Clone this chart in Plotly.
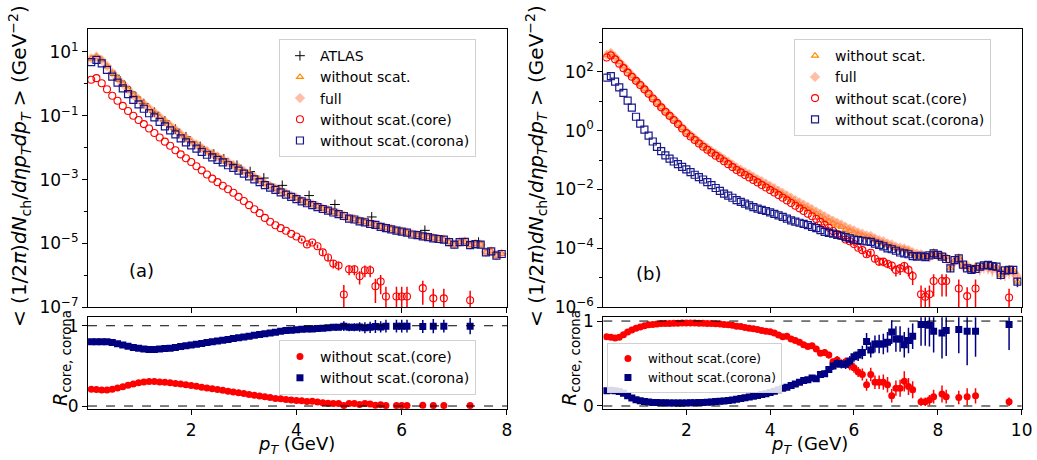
import numpy as np
import plotly.graph_objects as go

# ---------------- bin centres ----------------
pt_a = np.round(np.arange(1, 80) * 0.1, 1)    # 0.1 ... 7.9 GeV
pt_b = np.round(np.arange(1, 100) * 0.1, 1)   # 0.1 ... 9.9 GeV

# ---------------- panel (a): spectra (log10 values) ----------------
atlas_pt = [0.55, 0.65, 0.75, 0.85, 0.95, 1.1, 1.3, 1.5, 1.7, 1.9, 2.17, 2.43, 2.62, 2.87,
            3.12, 3.38, 3.73, 4.24, 4.73, 5.43, 6.44, 7.46]
atlas_log = [0.27, 0.09, -0.08, -0.25, -0.41, -0.62, -0.89, -1.16, -1.42, -1.66, -1.96, -2.2,
             -2.35, -2.55, -2.75, -2.95, -3.18, -3.5, -3.78, -4.17, -4.59, -4.96]

log_total_a = [0.79, 0.85, 0.74, 0.55, 0.34, 0.16, -0.01, -0.18, -0.36, -0.49,
               -0.63, -0.77, -0.90, -1.04, -1.18, -1.31, -1.44, -1.58, -1.70, -1.81,
               -1.91, -2.02, -2.11, -2.20, -2.28, -2.37, -2.46, -2.55, -2.64, -2.74,
               -2.83, -2.93, -3.02, -3.12, -3.20, -3.28, -3.36, -3.43, -3.51, -3.58,
               -3.66, -3.72, -3.78, -3.84, -3.91, -3.96, -4.02, -4.07, -4.14, -4.21,
               -4.24, -4.30, -4.33, -4.38, -4.42, -4.48, -4.52, -4.55, -4.60, -4.63,
               -4.66, -4.72, -4.74, -4.78, -4.80, -4.84, -4.86, -4.88, -4.96, -5.04,
               -4.96, -4.95, -5.05, -5.02, -5.04, -5.28, -5.25, -5.38, -5.33]

log_full_a = [0.80, 0.86, 0.75, 0.56, 0.35, 0.17, 0.00, -0.17, -0.35, -0.48,
              -0.62, -0.76, -0.89, -1.03, -1.17, -1.30, -1.43, -1.57, -1.69, -1.80,
              -1.90, -2.01, -2.10, -2.19, -2.27, -2.36, -2.45, -2.54, -2.63, -2.73,
              -2.82, -2.92, -3.01, -3.11, -3.19, -3.27, -3.35, -3.42, -3.50, -3.57,
              -3.65, -3.71, -3.77, -3.83, -3.90, -3.95, -4.01, -4.06, -4.13, -4.20,
              -4.23, -4.29, -4.32, -4.37, -4.41, -4.47, -4.51, -4.54, -4.59, -4.62,
              -4.65, -4.71, -4.73, -4.77, -4.79, -4.83, -4.85, -4.87, -4.95, -5.03,
              -4.95, -4.94, -5.04, -5.01, -5.03, -5.27, -5.24, -5.37, -5.32]

log_core_a = [0.13, 0.18, 0.02, -0.17, -0.37, -0.53, -0.69, -0.85, -1.00, -1.13,
              -1.26, -1.40, -1.54, -1.68, -1.81, -1.94, -2.08, -2.21, -2.33, -2.45,
              -2.58, -2.71, -2.84, -2.97, -3.08, -3.19, -3.30, -3.41, -3.54, -3.67,
              -3.80, -3.93, -4.05, -4.20, -4.32, -4.43, -4.52, -4.60, -4.70, -4.78,
              -4.88, -5.03, -4.97, -5.09, -5.28, -5.44, -5.63, -5.69, -6.60, -5.81,
              -5.81, -6.03, -5.84, -5.84, -6.34, -6.19, -6.66, None, -6.66, -6.66,
              -6.66, None, None, -6.40, None, -6.72, None, -6.72, None, None,
              None, None, -6.78, None, None, None, None, None, None]
core_a_errfrac = [0] * 40 + [0.1, 0.12, 0.12, 0.15, 0.2, 0.25, 0.3, 0.3, 1.0, 0.35,
                             0.35, 0.45, 0.4, 0.4, 0.7, 0.6, 1.0, 0, 1.0, 1.0,
                             1.0, 0, 0, 0.7, 0, 1.0, 0, 1.0, 0, 0,
                             0, 0, 1.0, 0, 0, 0, 0, 0, 0]

log_corona_a = [0.68, 0.75, 0.64, 0.44, 0.23, 0.04, -0.14, -0.32, -0.50, -0.64,
                -0.78, -0.92, -1.05, -1.19, -1.33, -1.46, -1.58, -1.71, -1.83, -1.93,
                -2.03, -2.13, -2.22, -2.30, -2.38, -2.46, -2.55, -2.63, -2.72, -2.81,
                -2.90, -2.99, -3.08, -3.17, -3.25, -3.32, -3.40, -3.47, -3.54, -3.61,
                -3.68, -3.74, -3.80, -3.86, -3.92, -3.97, -4.03, -4.08, -4.14, -4.22,
                -4.25, -4.31, -4.34, -4.39, -4.42, -4.48, -4.52, -4.56, -4.60, -4.63,
                -4.66, -4.72, -4.74, -4.78, -4.80, -4.84, -4.86, -4.88, -4.96, -5.04,
                -4.96, -4.95, -5.05, -5.02, -5.04, -5.28, -5.25, -5.38, -5.33]

# ---------------- panel (a): ratios ----------------
rcore_a = [0.21, 0.205, 0.20, 0.20, 0.21, 0.225, 0.24, 0.26, 0.275, 0.29,
           0.30, 0.305, 0.305, 0.30, 0.295, 0.29, 0.28, 0.275, 0.265, 0.255,
           0.245, 0.235, 0.225, 0.215, 0.205, 0.195, 0.185, 0.175, 0.165, 0.155,
           0.145, 0.135, 0.125, 0.115, 0.105, 0.095, 0.09, 0.08, 0.075, 0.07,
           0.065, 0.055, 0.06, 0.05, 0.04, 0.035, 0.03, 0.03, 0.005, 0.03,
           0.03, 0.02, 0.03, 0.025, 0.01, 0.015, 0.005, None, 0.005, 0.005,
           0.005, None, None, 0.01, None, 0.005, None, 0.005, None, None,
           None, None, 0.005, None, None, None, None, None, None]
rcorona_a = [0.80, 0.80, 0.80, 0.80, 0.79, 0.775, 0.76, 0.745, 0.73, 0.72,
             0.71, 0.705, 0.705, 0.71, 0.715, 0.72, 0.73, 0.74, 0.75, 0.76,
             0.77, 0.78, 0.79, 0.80, 0.81, 0.82, 0.83, 0.84, 0.85, 0.86,
             0.87, 0.88, 0.89, 0.90, 0.91, 0.92, 0.93, 0.94, 0.945, 0.95,
             0.955, 0.96, 0.96, 0.965, 0.97, 0.975, 0.98, 0.98, 0.995, 0.98,
             0.98, 0.985, 0.975, 0.98, 0.99, 0.985, 0.995, None, 0.995, 0.995,
             0.995, None, None, 0.99, None, 0.995, None, 0.995, None, None,
             None, None, 0.995, None, None, None, None, None, None]
rcorona_a_err = [0] * 48 + [0.06, 0.05,
                            0.05, 0.06, 0.07, 0.07, 0.08, 0.07, 0.08, 0, 0.08, 0.08,
                            0.08, 0, 0, 0.08, 0, 0.09, 0, 0.08, 0, 0,
                            0, 0, 0.1, 0, 0, 0, 0, 0, 0]

# ---------------- panel (b): spectra (log10 values) ----------------
log_total_b = [2.56, 2.63, 2.49, 2.33, 2.18, 2.02, 1.87, 1.71, 1.57, 1.42,
               1.27, 1.10, 0.95, 0.80, 0.65, 0.52, 0.38, 0.24, 0.09, -0.06,
               -0.17, -0.29, -0.41, -0.52, -0.62, -0.72, -0.82, -0.91, -1.01, -1.10,
               -1.20, -1.30, -1.38, -1.47, -1.54, -1.63, -1.71, -1.79, -1.87, -1.95,
               -2.03, -2.11, -2.19, -2.28, -2.36, -2.44, -2.52, -2.60, -2.67, -2.75,
               -2.83, -2.92, -3.00, -3.08, -3.15, -3.22, -3.27, -3.36, -3.41, -3.47,
               -3.53, -3.57, -3.63, -3.63, -3.72, -3.78, -3.82, -3.89, -3.92, -3.99,
               -4.03, -4.03, -4.09, -4.18, -4.28, -4.23, -4.28, -4.22, -4.12, -4.22,
               -4.22, -4.29, -4.68, -4.40, -4.30, -4.55, -4.63, -4.73, -4.61, -4.62,
               -4.58, -4.56, -4.60, -4.62, -4.90, -4.75, -4.68, -4.73, -5.13]

log_full_b = [2.57, 2.64, 2.50, 2.34, 2.19, 2.03, 1.88, 1.72, 1.58, 1.43,
              1.28, 1.12, 0.97, 0.82, 0.67, 0.54, 0.40, 0.26, 0.11, -0.04,
              -0.15, -0.27, -0.38, -0.49, -0.59, -0.69, -0.78, -0.87, -0.97, -1.06,
              -1.15, -1.25, -1.33, -1.41, -1.48, -1.57, -1.65, -1.72, -1.80, -1.88,
              -1.96, -2.04, -2.12, -2.20, -2.28, -2.36, -2.44, -2.52, -2.59, -2.67,
              -2.75, -2.83, -2.91, -2.99, -3.06, -3.13, -3.19, -3.27, -3.33, -3.39,
              -3.46, -3.50, -3.56, -3.58, -3.66, -3.72, -3.76, -3.83, -3.87, -3.94,
              -3.98, -4.00, -4.05, -4.13, -4.18, -4.20, -4.26, -4.30, -4.20, -4.25,
              -4.28, -4.32, -4.55, -4.45, -4.38, -4.60, -4.58, -4.68, -4.66, -4.70,
              -4.62, -4.66, -4.72, -4.68, -4.80, -4.85, -4.78, -4.82, -4.95]
full_b_errfrac = [0] * 60 + [0.1, 0.1, 0.12, 0.12, 0.12, 0.14, 0.14, 0.15, 0.15, 0.16,
                             0.18, 0.18, 0.2, 0.2, 0.22, 0.22, 0.25, 0.25, 0.25, 0.28,
                             0.3, 0.3, 0.3, 0.32, 0.32, 0.35, 0.35, 0.35, 0.38, 0.4,
                             0.4, 0.4, 0.42, 0.42, 0.45, 0.45, 0.45, 0.5, 0.5]

log_core_b = [2.48, 2.55, 2.42, 2.27, 2.12, 1.97, 1.83, 1.69, 1.55, 1.40,
              1.25, 1.09, 0.94, 0.79, 0.64, 0.50, 0.36, 0.22, 0.07, -0.08,
              -0.20, -0.32, -0.44, -0.55, -0.65, -0.75, -0.85, -0.94, -1.04, -1.14,
              -1.24, -1.34, -1.42, -1.51, -1.59, -1.68, -1.76, -1.85, -1.93, -2.02,
              -2.10, -2.19, -2.28, -2.37, -2.46, -2.55, -2.64, -2.73, -2.82, -2.91,
              -3.00, -3.10, -3.20, -3.30, -3.41, -3.51, -3.58, -3.70, -3.76, -3.85,
              -3.98, -4.06, -4.20, -4.15, -4.35, -4.45, -4.45, -4.52, -4.58, -4.73,
              -4.68, -4.60, -4.73, -4.94, None, -5.56, -5.64, -5.56, -5.11, None,
              -5.11, -5.11, None, None, -5.36, None, -5.62, None, -5.36, None,
              None, None, None, None, None, None, -5.67, None, None]
core_b_errfrac = [0] * 50 + [0.06, 0.07, 0.08, 0.09, 0.1, 0.1, 0.12, 0.12, 0.14, 0.15,
                             0.16, 0.18, 0.2, 0.2, 0.25, 0.28, 0.3, 0.3, 0.35, 0.4,
                             0.4, 0.4, 0.4, 0.5, 0, 1.0, 1.0, 1.0, 0.7, 0,
                             0.7, 0.7, 0, 0, 1.0, 0, 1.0, 0, 1.0, 0,
                             0, 0, 0, 0, 0, 0, 1.0, 0, 0]

log_corona_b = [1.80, 1.85, 1.66, 1.47, 1.28, 1.02, 0.78, 0.47, 0.24, 0.03,
                -0.17, -0.37, -0.55, -0.70, -0.84, -0.95, -1.05, -1.14, -1.23, -1.32,
                -1.41, -1.50, -1.58, -1.66, -1.75, -1.85, -1.95, -2.05, -2.14, -2.21,
                -2.28, -2.36, -2.42, -2.48, -2.54, -2.60, -2.65, -2.69, -2.73, -2.78,
                -2.83, -2.88, -2.93, -2.99, -3.05, -3.09, -3.13, -3.17, -3.21, -3.27,
                -3.31, -3.38, -3.44, -3.47, -3.50, -3.54, -3.57, -3.62, -3.66, -3.70,
                -3.72, -3.74, -3.76, -3.78, -3.84, -3.88, -3.93, -4.00, -4.03, -4.08,
                -4.14, -4.17, -4.20, -4.26, -4.28, -4.25, -4.30, -4.24, -4.17, -4.22,
                -4.28, -4.36, -4.68, -4.40, -4.34, -4.55, -4.68, -4.73, -4.70, -4.62,
                -4.58, -4.56, -4.60, -4.62, -4.90, -4.75, -4.73, -4.73, -5.13]
corona_b_errfrac = [0] * 60 + [0.08, 0.08, 0.08, 0.1, 0.1, 0.1, 0.12, 0.12, 0.12, 0.14,
                               0.14, 0.15, 0.15, 0.15, 0.16, 0.18, 0.18, 0.18, 0.2, 0.2,
                               0.2, 0.22, 0.25, 0.22, 0.22, 0.25, 0.25, 0.25, 0.25, 0.25,
                               0.25, 0.25, 0.25, 0.25, 0.3, 0.3, 0.3, 0.3, 0.35]

# ---------------- panel (b): ratios ----------------
rcore_b = [0.815, 0.81, 0.80, 0.81, 0.84, 0.87, 0.895, 0.915, 0.93, 0.945,
           0.955, 0.96, 0.965, 0.97, 0.97, 0.972, 0.975, 0.975, 0.977, 0.978,
           0.978, 0.977, 0.975, 0.975, 0.972, 0.97, 0.968, 0.965, 0.96, 0.955,
           0.95, 0.94, 0.935, 0.925, 0.915, 0.91, 0.90, 0.89, 0.88, 0.875,
           0.86, 0.835, 0.815, 0.82, 0.79, 0.77, 0.75, 0.72, 0.70, 0.71,
           0.67, 0.62, 0.63, 0.60, 0.52, 0.54, 0.50, 0.52, 0.48, 0.45,
           0.40, 0.37, 0.25, 0.37, 0.28, 0.28, 0.28, 0.25, 0.12, 0.21,
           0.21, 0.29, 0.23, 0.19, None, 0.05, 0.05, 0.07, 0.11, None,
           0.14, 0.11, None, None, 0.10, None, 0.11, None, 0.12, None,
           None, None, None, None, None, None, 0.05, None, None]
rcore_b_err = [0] * 47 + [0.02, 0.02, 0.03,
                          0.03, 0.03, 0.04, 0.04, 0.04, 0.05, 0.05, 0.05, 0.06, 0.06,
                          0.06, 0.07, 0.07, 0.08, 0.08, 0.08, 0.09, 0.09, 0.08, 0.09,
                          0.1, 0.12, 0.1, 0.1, 0, 0.05, 0.05, 0.06, 0.08, 0,
                          0.1, 0.08, 0, 0, 0.08, 0, 0.1, 0, 0.09, 0,
                          0, 0, 0, 0, 0, 0, 0.05, 0, 0]
rcorona_b = [0.18, 0.185, 0.18, 0.17, 0.15, 0.12, 0.095, 0.075, 0.062, 0.052,
             0.046, 0.042, 0.04, 0.038, 0.037, 0.036, 0.036, 0.036, 0.036, 0.036,
             0.037, 0.038, 0.04, 0.042, 0.045, 0.048, 0.052, 0.056, 0.06, 0.066,
             0.072, 0.08, 0.088, 0.096, 0.105, 0.115, 0.125, 0.135, 0.145, 0.16,
             0.175, 0.19, 0.21, 0.22, 0.24, 0.26, 0.28, 0.30, 0.31, 0.33,
             0.32, 0.37, 0.38, 0.43, 0.47, 0.50, 0.49, 0.49, 0.53, 0.58,
             0.60, 0.63, 0.76, 0.66, 0.73, 0.73, 0.73, 0.75, 0.87, 0.79,
             0.79, 0.72, 0.77, 0.82, None, 0.96, 0.96, 0.95, 0.88, None,
             0.86, 0.89, None, None, 0.90, None, 0.88, None, 0.88, None,
             None, None, None, None, None, None, 0.96, None, None]
rcorona_b_err = [0] * 47 + [0.02, 0.025, 0.03,
                            0.03, 0.035, 0.04, 0.04, 0.045, 0.05, 0.05, 0.055, 0.06, 0.06,
                            0.07, 0.08, 0.1, 0.09, 0.1, 0.11, 0.12, 0.12, 0.14, 0.15,
                            0.15, 0.15, 0.15, 0.15, 0, 0.25, 0.25, 0.25, 0.25, 0,
                            0.3, 0.3, 0, 0, 0.28, 0, 0.4, 0, 0.3, 0,
                            0, 0, 0, 0, 0, 0, 0.3, 0, 0]

# ---------------- tick labels ----------------
yt_a_vals = [1e-7, 1e-5, 1e-3, 1e-1, 1e1]
yt_a_text = ["10<sup>\u22127</sup>", "10<sup>\u22125</sup>", "10<sup>\u22123</sup>",
             "10<sup>\u22121</sup>", "10<sup>1</sup>"]
yt_b_vals = [1e-6, 1e-4, 1e-2, 1e0, 1e2]
yt_b_text = ["10<sup>\u22126</sup>", "10<sup>\u22124</sup>", "10<sup>\u22122</sup>",
             "10<sup>0</sup>", "10<sup>2</sup>"]
xt_a = [2, 4, 6, 8]
xt_b = [2, 4, 6, 8, 10]

# ---------------- helpers ----------------
FONT = "DejaVu Sans"
C_OR = "#ff8c00"
C_FULL = "rgba(255,125,80,0.5)"
C_CORE = "#ff0000"
C_COR = "#000080"


def lin(logs):
    return [None if v is None else 10.0 ** v for v in logs]


def rel_err(vals, fracs):
    up = [0 if v is None else v * f for v, f in zip(vals, fracs)]
    dn = [0 if v is None else v * min(f, 0.95) for v, f in zip(vals, fracs)]
    return up, dn


def abs_err(vals, errs):
    return [0 if v is None else e for v, e in zip(vals, errs)]


def ebar(up, dn, color, thick=1.5):
    return dict(type="data", symmetric=False, array=up, arrayminus=dn,
                color=color, thickness=thick, width=0)


fig = go.Figure()

# ---- (a) top ----
fig.add_trace(go.Scatter(x=atlas_pt, y=lin(atlas_log), mode="markers", name="ATLAS",
                         marker=dict(symbol="cross-thin", size=7, color="black",
                                     line=dict(width=1, color="black")),
                         xaxis="x", yaxis="y", legend="legend"))
fig.add_trace(go.Scatter(x=pt_a, y=lin(log_total_a), mode="markers", name="without scat.",
                         marker=dict(symbol="triangle-up-open", size=6, color=C_OR,
                                     line=dict(width=1.2, color=C_OR)),
                         xaxis="x", yaxis="y", legend="legend"))
fig.add_trace(go.Scatter(x=pt_a, y=lin(log_full_a), mode="markers", name="full",
                         marker=dict(symbol="diamond", size=8, color=C_FULL,
                                     line=dict(width=0)),
                         xaxis="x", yaxis="y", legend="legend"))
core_a = lin(log_core_a)
u, d = rel_err(core_a, core_a_errfrac)
fig.add_trace(go.Scatter(x=pt_a, y=core_a, mode="markers", name="without scat.(core)",
                         marker=dict(symbol="circle-open", size=7, color=C_CORE,
                                     line=dict(width=1.1, color=C_CORE)),
                         error_y=ebar(u, d, C_CORE),
                         xaxis="x", yaxis="y", legend="legend"))
fig.add_trace(go.Scatter(x=pt_a, y=lin(log_corona_a), mode="markers", name="without scat.(corona)",
                         marker=dict(symbol="square-open", size=7, color=C_COR,
                                     line=dict(width=1.2, color=C_COR)),
                         opacity=0.9, xaxis="x", yaxis="y", legend="legend"))

# ---- (a) ratio ----
fig.add_trace(go.Scatter(x=pt_a, y=rcore_a, mode="markers", name="without scat.(core)",
                         marker=dict(symbol="circle", size=7, color=C_CORE),
                         xaxis="x2", yaxis="y2", legend="legend2"))
e = abs_err(rcorona_a, rcorona_a_err)
fig.add_trace(go.Scatter(x=pt_a, y=rcorona_a, mode="markers", name="without scat.(corona)",
                         marker=dict(symbol="square", size=7, color=C_COR),
                         error_y=ebar(e, e, C_COR),
                         xaxis="x2", yaxis="y2", legend="legend2"))

# ---- (b) top ----
fig.add_trace(go.Scatter(x=pt_b, y=lin(log_total_b), mode="markers", name="without scat.",
                         marker=dict(symbol="triangle-up-open", size=6, color=C_OR,
                                     line=dict(width=1.2, color=C_OR)),
                         xaxis="x3", yaxis="y3", legend="legend3"))
full_b = lin(log_full_b)
u, d = rel_err(full_b, full_b_errfrac)
fig.add_trace(go.Scatter(x=pt_b, y=full_b, mode="markers", name="full",
                         marker=dict(symbol="diamond", size=8, color=C_FULL, line=dict(width=0)),
                         error_y=ebar(u, d, C_FULL),
                         xaxis="x3", yaxis="y3", legend="legend3"))
core_b = lin(log_core_b)
u, d = rel_err(core_b, core_b_errfrac)
fig.add_trace(go.Scatter(x=pt_b, y=core_b, mode="markers", name="without scat.(core)",
                         marker=dict(symbol="circle-open", size=7, color=C_CORE,
                                     line=dict(width=1.1, color=C_CORE)),
                         error_y=ebar(u, d, C_CORE),
                         xaxis="x3", yaxis="y3", legend="legend3"))
corona_b = lin(log_corona_b)
u, d = rel_err(corona_b, corona_b_errfrac)
fig.add_trace(go.Scatter(x=pt_b, y=corona_b, mode="markers", name="without scat.(corona)",
                         marker=dict(symbol="square-open", size=7, color=C_COR,
                                     line=dict(width=1.2, color=C_COR)),
                         error_y=ebar(u, d, C_COR),
                         opacity=0.9, xaxis="x3", yaxis="y3", legend="legend3"))

# ---- (b) ratio ----
e = abs_err(rcore_b, rcore_b_err)
fig.add_trace(go.Scatter(x=pt_b, y=rcore_b, mode="markers", name="without scat.(core)",
                         marker=dict(symbol="circle", size=7, color=C_CORE),
                         error_y=ebar(e, e, C_CORE),
                         xaxis="x4", yaxis="y4", legend="legend4"))
e = abs_err(rcorona_b, rcorona_b_err)
fig.add_trace(go.Scatter(x=pt_b, y=rcorona_b, mode="markers", name="without scat.(corona)",
                         marker=dict(symbol="square", size=7, color=C_COR),
                         error_y=ebar(e, e, C_COR),
                         xaxis="x4", yaxis="y4", legend="legend4"))

# ---------------- layout ----------------
XA = [0.0849, 0.4889]
XB = [0.5818, 0.9852]
YT = [0.3320, 0.9363]
YR = [0.1102, 0.3102]

ax_common = dict(showline=True, mirror=True, linecolor="black", linewidth=1,
                 ticks="outside", ticklen=5, tickwidth=1, tickcolor="black",
                 showgrid=False, zeroline=False, automargin=False,
                 tickfont=dict(family=FONT, size=17, color="black"))

minor_a = dict(tickvals=[1e-6, 1e-4, 1e-2, 1e0], ticks="outside", ticklen=3,
               tickcolor="black", showgrid=False)
minor_b = dict(tickvals=[1e-5, 1e-3, 1e-1, 1e1, 1e3], ticks="outside", ticklen=3,
               tickcolor="black", showgrid=False)

legend_common = dict(xanchor="left", yanchor="top", bgcolor="rgba(255,255,255,0.85)",
                     bordercolor="#d0d0d0", borderwidth=1, tracegroupgap=0)

fig.update_layout(
    width=1037, height=460, autosize=False,
    margin=dict(l=0, r=0, t=0, b=0, pad=0, autoexpand=False),
    paper_bgcolor="white", plot_bgcolor="white",
    font=dict(family=FONT, size=14, color="black"),
    xaxis=dict(domain=XA, range=[0.04, 8], anchor="y", tickvals=xt_a,
               showticklabels=False, **ax_common),
    yaxis=dict(domain=YT, type="log", range=[-7, 1.71], anchor="x",
               tickvals=yt_a_vals, ticktext=yt_a_text, minor=minor_a, **ax_common),
    xaxis2=dict(domain=XA, range=[0.04, 8], anchor="y2", tickvals=xt_a,
                ticktext=[str(v) for v in xt_a], **ax_common),
    yaxis2=dict(domain=YR, range=[-0.041, 1.105], anchor="x2", tickvals=[0, 1],
                ticktext=["0", "1"], **ax_common),
    xaxis3=dict(domain=XB, range=[0.02, 10], anchor="y3", tickvals=xt_b,
                showticklabels=False, **ax_common),
    yaxis3=dict(domain=YT, type="log", range=[-6, 3.44], anchor="x3",
                tickvals=yt_b_vals, ticktext=yt_b_text, minor=minor_b, **ax_common),
    xaxis4=dict(domain=XB, range=[0.02, 10], anchor="y4", tickvals=xt_b,
                ticktext=[str(v) for v in xt_b], **ax_common),
    yaxis4=dict(domain=YR, range=[-0.039, 1.044], anchor="x4", tickvals=[0, 1],
                ticktext=["0", "1"], **ax_common),
    legend=dict(x=0.269, y=0.915, font=dict(family=FONT, size=14), **legend_common),
    legend2=dict(x=0.269, y=0.2609, font=dict(family=FONT, size=14), **legend_common),
    legend3=dict(x=0.7657, y=0.915, font=dict(family=FONT, size=14), **legend_common),
    legend4=dict(x=0.5853, y=0.2543, font=dict(family=FONT, size=12), **legend_common),
)

# dashed reference lines in ratio panels
for xr, yr in (("x2", "y2"), ("x4", "y4")):
    for yv in (0, 1):
        fig.add_shape(type="line", xref=f"{xr} domain", yref=yr, x0=0, x1=1, y0=yv, y1=yv,
                      line=dict(color="black", width=1, dash="dash"))

ytitle = ("&lt; (1/2<i>\u03c0</i>)<i>dN</i><sub>ch</sub>/<i>d\u03b7p</i><sub><i>T</i></sub>"
          "<i>dp</i><sub><i>T</i></sub> &gt; (GeV<sup>\u22122</sup>)")
rtitle = "<i>R</i><sub>core, corona</sub>"
xtitle = "<i>p</i><sub><i>T</i></sub> (GeV)"

ann = [
    dict(x=0.0183, y=0.639, text=ytitle, textangle=-90, font=dict(size=20)),
    dict(x=0.5168, y=0.639, text=ytitle, textangle=-90, font=dict(size=20)),
    dict(x=0.0598, y=0.222, text=rtitle, textangle=-90, font=dict(size=19)),
    dict(x=0.5506, y=0.222, text=rtitle, textangle=-90, font=dict(size=19)),
    dict(x=0.2864, y=0.0, text=xtitle, font=dict(size=18), yanchor="bottom", yshift=1),
    dict(x=0.7810, y=0.0, text=xtitle, font=dict(size=18), yanchor="bottom", yshift=1),
    dict(x=0.1366, y=0.413, text="(a)", font=dict(size=18)),
    dict(x=0.6258, y=0.4065, text="(b)", font=dict(size=18)),
]
for a in ann:
    a.setdefault("yanchor", "middle")
    a.update(xref="paper", yref="paper", showarrow=False, xanchor="center")
    a["font"].update(family=FONT, color="black")
    fig.add_annotation(**a)

fig.write_html("out.html", config={"responsive": False},
               post_script="document.documentElement.style.margin='0';"
                           "document.body.style.margin='0';document.body.style.padding='0';"
                           "document.body.style.overflow='hidden';")
